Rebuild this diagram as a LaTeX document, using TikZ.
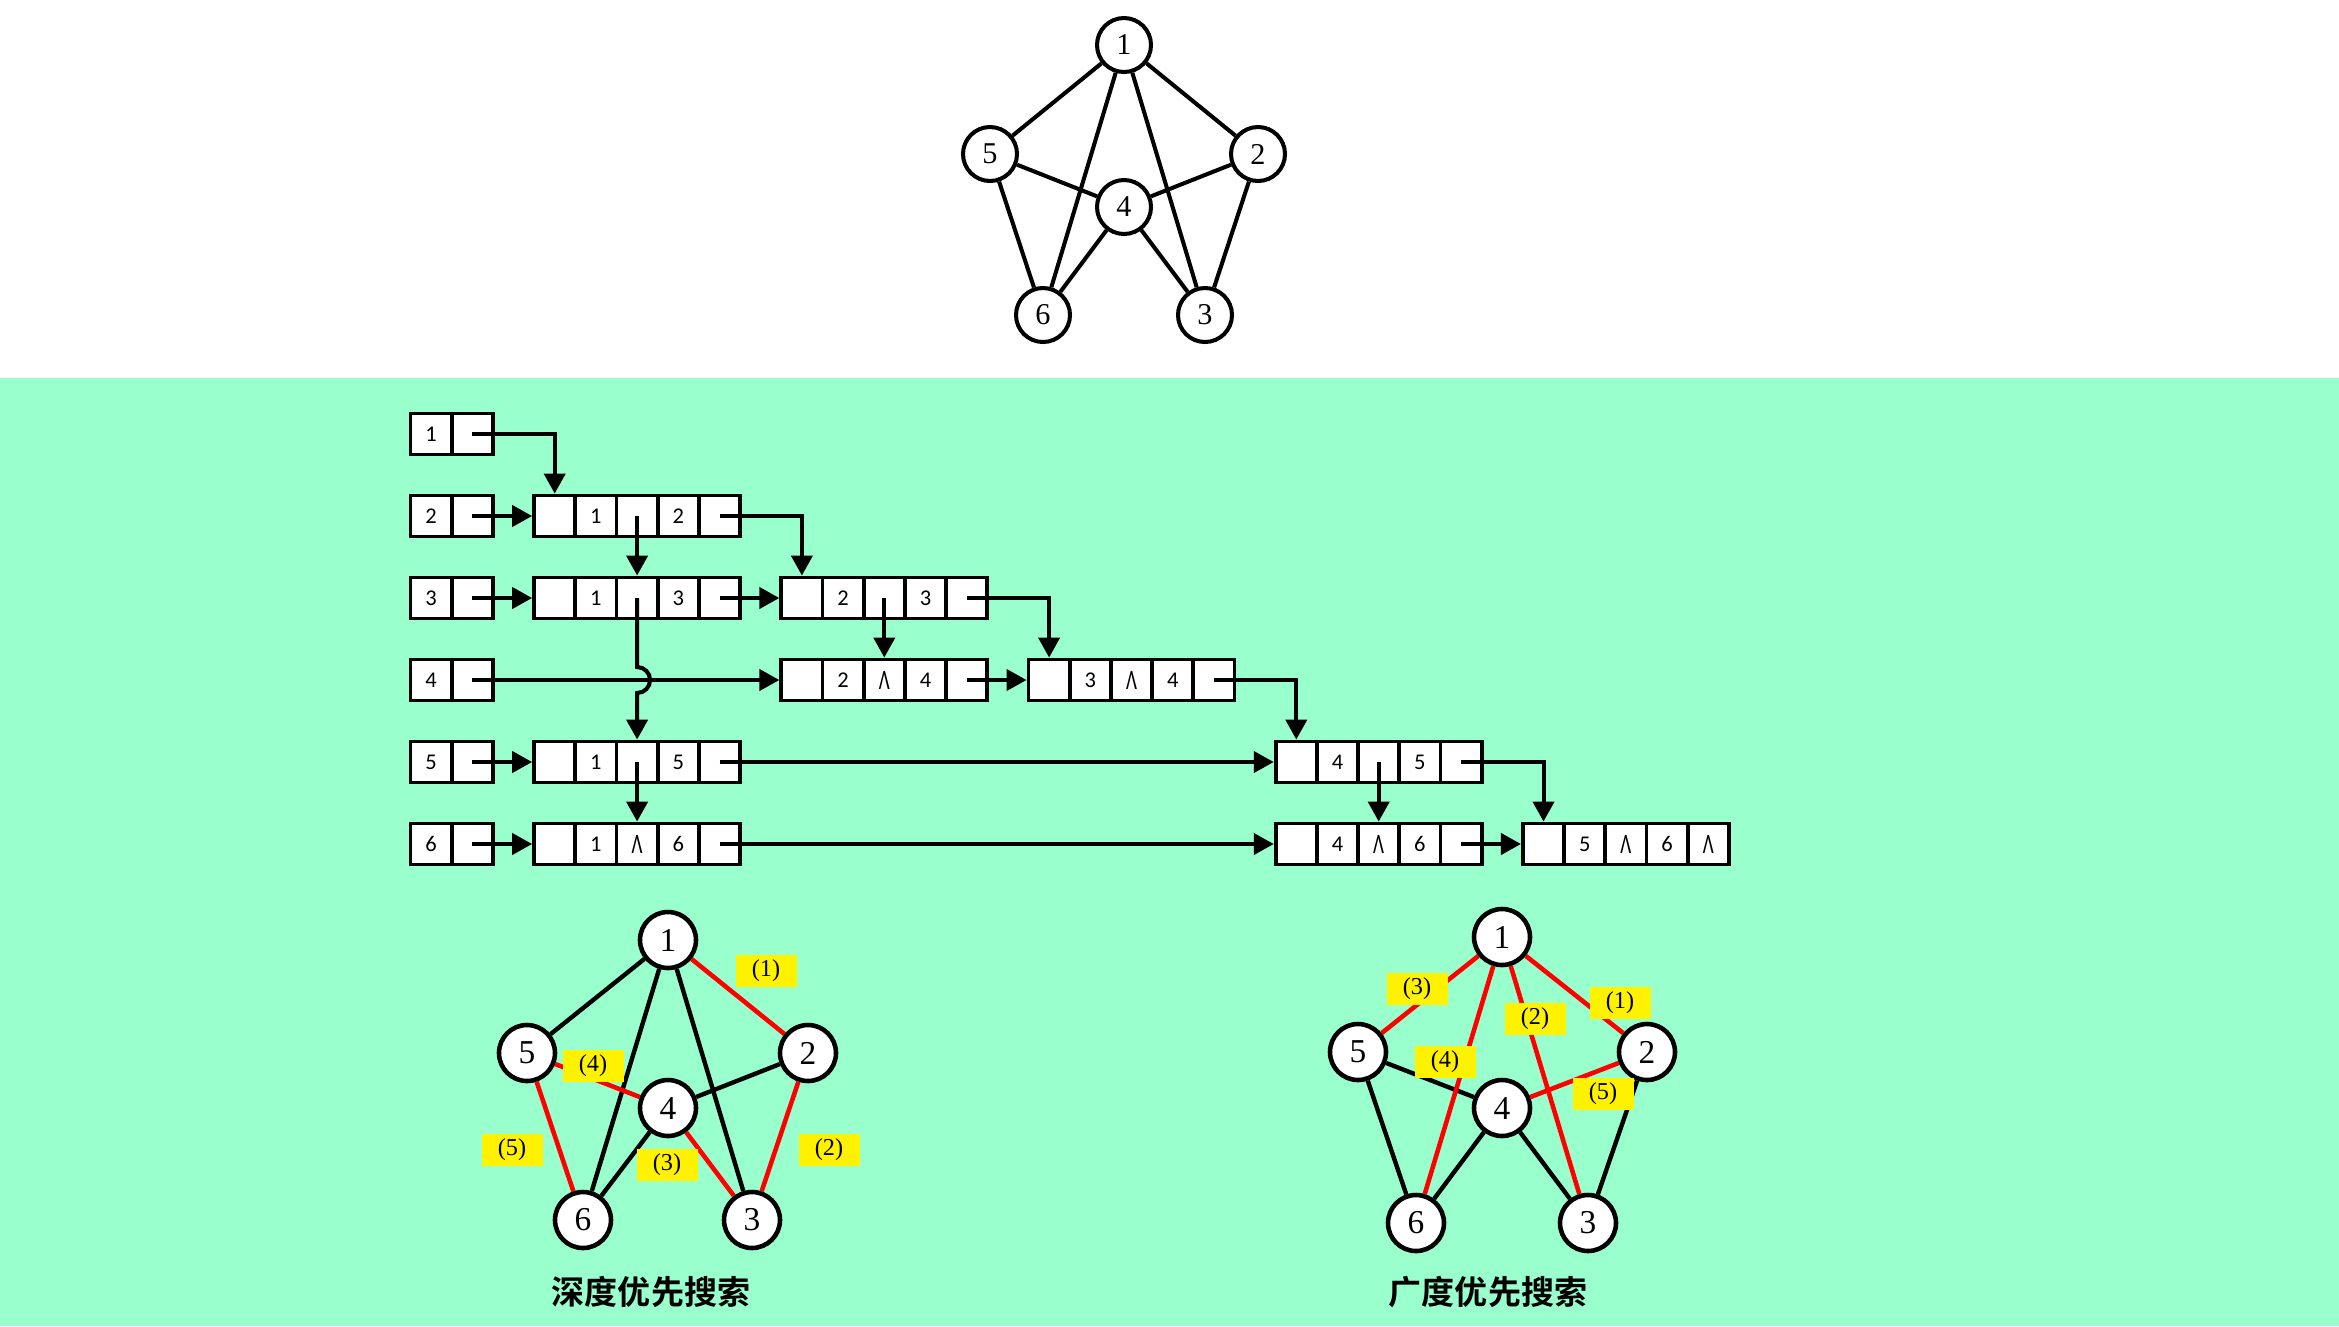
\documentclass[tikz,border=0pt]{standalone}
\usepackage{fontspec}
\setmainfont{Liberation Serif}
\newfontfamily\cellfont{Carlito}
\newfontfamily\cjkfont{Noto Sans CJK SC}[BoldFont={Noto Sans CJK SC Bold}]
\usetikzlibrary{arrows.meta,calc}
\definecolor{bgreen}{RGB}{153,255,204}
\pgfdeclarelayer{bg}
\pgfdeclarelayer{edges}
\pgfsetlayers{bg,edges,main}
\newcommand{\NilMark}{\scalebox{0.85}[1.25]{Λ}}
\newcommand{\HeadBox}[3]{%
  \node[cell] (#1-1) at (431.1,#2) {#3};
  \node[cell] (#1-2) at (472.3,#2) {};
}
\newcommand{\ListNode}[7]{%
  \node[cell] (#1-1) at ({410.5+41.2*(#2+0.5)},#3) {};
  \node[cell] (#1-2) at ({410.5+41.2*(#2+1.5)},#3) {#4};
  \node[cell] (#1-3) at ({410.5+41.2*(#2+2.5)},#3) {#5};
  \node[cell] (#1-4) at ({410.5+41.2*(#2+3.5)},#3) {#6};
  \node[cell] (#1-5) at ({410.5+41.2*(#2+4.5)},#3) {#7};
}
\tikzset{
  cell/.style={draw, line width=1.1pt, fill=white, minimum width=4.12mm, minimum height=4.1mm, inner sep=0pt, font=\cellfont\fontsize{6.4}{7}\selectfont},
  ptr/.style={line width=1.15pt, -{Triangle[length=2mm,width=2.1mm]}},
  vtx/.style={circle, draw, line width=1.15pt, fill=white, minimum size=5.4mm, inner sep=0pt, font=\fontsize{8.6}{9}\selectfont},
  bvtx/.style={circle, draw, line width=1.3pt, fill=white, minimum size=5.6mm, inner sep=0pt, font=\fontsize{9.5}{10}\selectfont},
  gedge/.style={line width=1.15pt},
  bedge/.style={line width=1.25pt},
  redge/.style={red, line width=1.3pt},
  lab/.style={fill=yellow, minimum width=6.1mm, minimum height=3.2mm, inner sep=0pt, font=\fontsize{6.9}{7}\selectfont},
  ttl/.style={font=\cjkfont\bfseries\fontsize{9.4}{10}\selectfont, inner sep=0pt}
}
\begin{document}
\begin{tikzpicture}[x=0.1mm,y=-0.1mm]
\useasboundingbox (0,0) rectangle (2339,1326);
\begin{pgfonlayer}{bg}
\fill[white] (0,0) rectangle (2339,378);
\fill[bgreen] (0,378) rectangle (2339,1326);
\end{pgfonlayer}

% ---------- top graph ----------
\node[vtx] (t1) at (1124,45) {1};
\node[vtx] (t5) at (990,154) {5};
\node[vtx] (t2) at (1258,154) {2};
\node[vtx] (t4) at (1124,207) {4};
\node[vtx] (t6) at (1043,315) {6};
\node[vtx] (t3) at (1205,315) {3};
\begin{pgfonlayer}{edges}
\draw[gedge] (t1)--(t5) (t1)--(t2) (t1)--(t6) (t1)--(t3) (t5)--(t4) (t4)--(t2)
  (t5)--(t6) (t4)--(t6) (t4)--(t3) (t2)--(t3);
\end{pgfonlayer}

% ---------- adjacency lists ----------
\HeadBox{h1}{434}{1}
\HeadBox{h2}{516}{2}
\HeadBox{h3}{598}{3}
\HeadBox{h4}{680}{4}
\HeadBox{h5}{762}{5}
\HeadBox{h6}{844}{6}

\ListNode{r2a}{3}{516}{1}{}{2}{}
\ListNode{r3a}{3}{598}{1}{}{3}{}
\ListNode{r3b}{9}{598}{2}{}{3}{}
\ListNode{r4b}{9}{680}{2}{\NilMark}{4}{}
\ListNode{r4c}{15}{680}{3}{\NilMark}{4}{}
\ListNode{r5a}{3}{762}{1}{}{5}{}
\ListNode{r5d}{21}{762}{4}{}{5}{}
\ListNode{r6a}{3}{844}{1}{\NilMark}{6}{}
\ListNode{r6d}{21}{844}{4}{\NilMark}{6}{}
\ListNode{r6e}{27}{844}{5}{\NilMark}{6}{\NilMark}

\draw[ptr] (h1-2.center) -| (r2a-1.north);
\draw[ptr] (h2-2.center) -- (r2a-1.west);
\draw[ptr] (r2a-3.center) -- (r3a-3.north);
\draw[ptr] (r2a-5.center) -| (r3b-1.north);
\draw[ptr] (h3-2.center) -- (r3a-1.west);
\draw[ptr] (r3a-5.center) -- (r3b-1.west);
\draw[ptr] (r3b-3.center) -- (r4b-3.north);
\draw[ptr] (r3b-5.center) -| (r4c-1.north);
\draw[ptr] (h4-2.center) -- (r4b-1.west);
\coordinate (jmp) at (r3a-3.center |- h4-2.center);
\draw[ptr] (r3a-3.center) -- ([yshift=1.3mm]jmp) arc[start angle=90,end angle=-90,radius=1.3mm] -- (r5a-3.north);
\draw[ptr] (r4b-5.center) -- (r4c-1.west);
\draw[ptr] (r4c-5.center) -| (r5d-1.north);
\draw[ptr] (h5-2.center) -- (r5a-1.west);
\draw[ptr] (r5a-3.center) -- (r6a-3.north);
\draw[ptr] (r5a-5.center) -- (r5d-1.west);
\draw[ptr] (r5d-3.center) -- (r6d-3.north);
\draw[ptr] (r5d-5.center) -| (r6e-1.north);
\draw[ptr] (h6-2.center) -- (r6a-1.west);
\draw[ptr] (r6a-5.center) -- (r6d-1.west);
\draw[ptr] (r6d-5.center) -- (r6e-1.west);

% ---------- DFS graph ----------
\node[bvtx] (d1) at (668,940) {1};
\node[bvtx] (d5) at (527,1053) {5};
\node[bvtx] (d2) at (808,1053) {2};
\node[bvtx] (d4) at (668,1108) {4};
\node[bvtx] (d6) at (583,1220) {6};
\node[bvtx] (d3) at (752,1220) {3};
\begin{pgfonlayer}{edges}
\draw[bedge] (d1)--(d5) (d1)--(d6) (d1)--(d3) (d2)--(d4) (d4)--(d6);
\draw[redge] (d1)--(d2) (d2)--(d3) (d3)--(d4) (d4)--(d5) (d5)--(d6);
\end{pgfonlayer}
\node[lab] (dl1) at (766,971) {(1)};
\node[lab] (dl2) at (829,1150) {(2)};
\node[lab] (dl3) at (667,1165) {(3)};
\node[lab] (dl4) at (593,1066) {(4)};
\node[lab] (dl5) at (512,1150) {(5)};
\node[ttl] (dt) at (651,1292) {深度优先搜索};

% ---------- BFS graph ----------
\node[bvtx] (b1) at (1502,937) {1};
\node[bvtx] (b5) at (1358,1052) {5};
\node[bvtx] (b2) at (1647,1052) {2};
\node[bvtx] (b4) at (1502,1108) {4};
\node[bvtx] (b6) at (1416,1223) {6};
\node[bvtx] (b3) at (1588,1223) {3};
\begin{pgfonlayer}{edges}
\draw[bedge] (b5)--(b4) (b5)--(b6) (b4)--(b6) (b4)--(b3) (b2)--(b3);
\draw[redge] (b1)--(b5) (b1)--(b6) (b1)--(b3) (b1)--(b2) (b2)--(b4);
\end{pgfonlayer}
\node[lab] (bl3) at (1417,989) {(3)};
\node[lab] (bl1) at (1620,1003) {(1)};
\node[lab] (bl2) at (1535,1019) {(2)};
\node[lab] (bl4) at (1445,1062) {(4)};
\node[lab] (bl5) at (1603,1094) {(5)};
\node[ttl] (bt) at (1488,1292) {广度优先搜索};
\end{tikzpicture}
\end{document}
